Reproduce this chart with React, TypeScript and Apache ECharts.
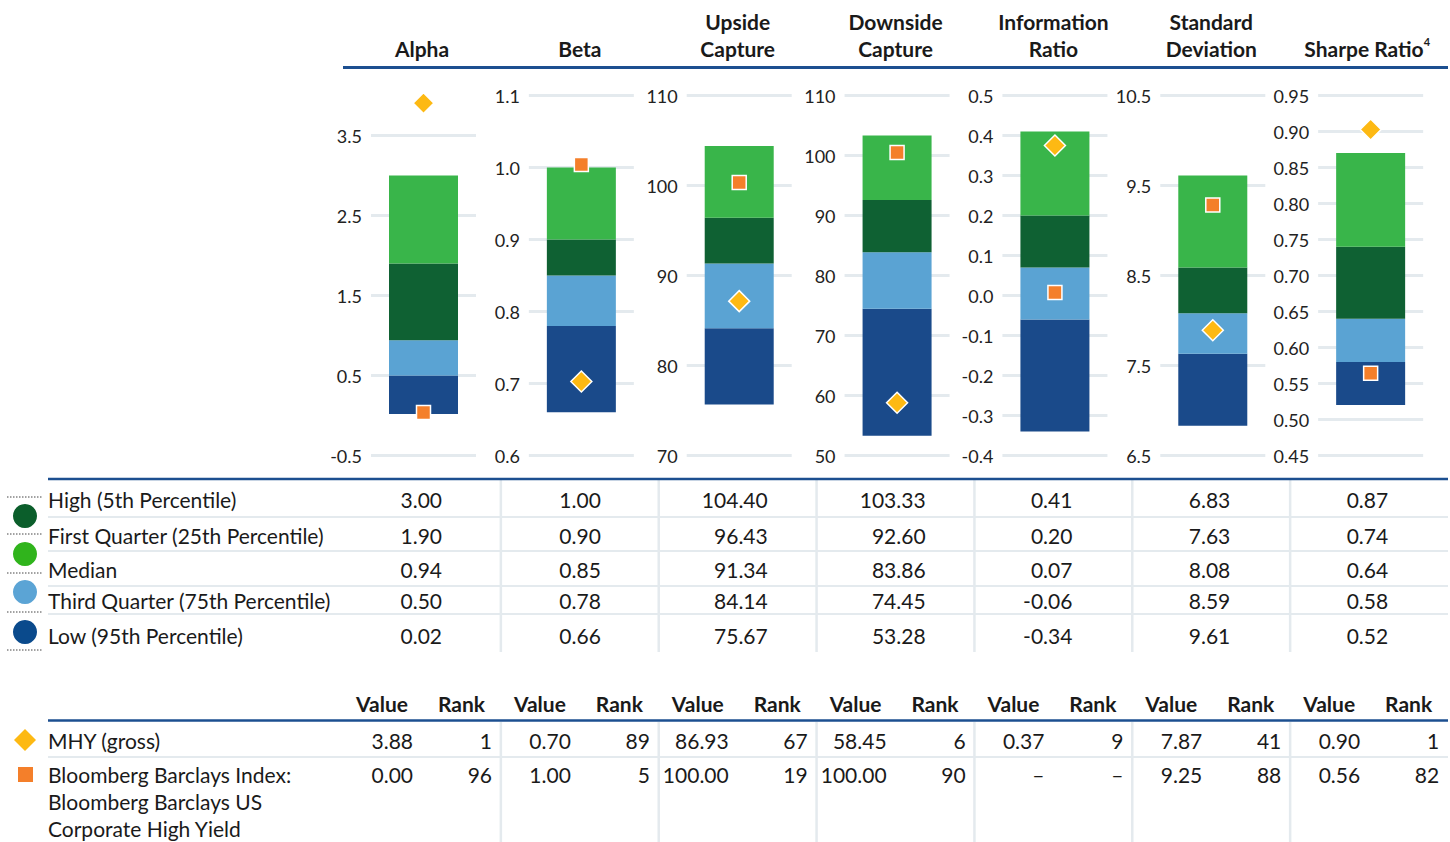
import React, { useEffect, useRef } from "react";
import * as echarts from "echarts";

// ---- Data ----
const metricTitles: string[][] = [
  ["Alpha"],
  ["Beta"],
  ["Upside", "Capture"],
  ["Downside", "Capture"],
  ["Information", "Ratio"],
  ["Standard", "Deviation"],
  ["Sharpe Ratio"],
];
const rowLabels = [
  "High (5th Percentile)",
  "First Quarter (25th Percentile)",
  "Median",
  "Third Quarter (75th Percentile)",
  "Low (95th Percentile)",
];
const highVals = [3.0, 1.0, 104.4, 103.33, 0.41, 6.83, 0.87];
const q1Vals = [1.9, 0.9, 96.43, 92.6, 0.2, 7.63, 0.74];
const medianVals = [0.94, 0.85, 91.34, 83.86, 0.07, 8.08, 0.64];
const q3Vals = [0.5, 0.78, 84.14, 74.45, -0.06, 8.59, 0.58];
const lowVals = [0.02, 0.66, 75.67, 53.28, -0.34, 9.61, 0.52];

const mhyValues = [3.88, 0.7, 86.93, 58.45, 0.37, 7.87, 0.9];
const mhyRanks = ["1", "89", "67", "6", "9", "41", "1"];
// Index: information ratio plotted at 0, shown as a dash in the table
const indexValues = [0.0, 1.0, 100.0, 100.0, 0.0, 9.25, 0.56];
const indexValueLabels = ["0.00", "1.00", "100.00", "100.00", "–", "9.25", "0.56"];
const indexRanks = ["96", "5", "19", "90", "–", "88", "82"];

const axisMin = [-0.5, 0.6, 70, 50, -0.4, 6.5, 0.45];
const axisMax = [4.0, 1.1, 110, 110, 0.5, 10.5, 0.95];
const axisStep = [1, 0.1, 10, 10, 0.1, 1, 0.05];
const axisDecimals = [1, 1, 0, 0, 1, 1, 2];

const bandColors = ["#1a4a8a", "#5aa3d3", "#0f6133", "#39b54a"]; // bottom -> top
const legendColors = ["#0b5e2b", "#30b41c", "#5ba4d5", "#0a4a8c"];
const NAVY = "#1c4f90";
const GRIDC = "#e4eaee";
const TXT = "#1a1a1a";
const FONT = "Lato";
const FS = 21;

const COL0 = 343;
const COLW = 1105 / 7;
const colX = (i: number) => COL0 + i * COLW;
const tableRight = [99, 100, 109, 109, 98, 98, 98];

function text(t: string, x: number, y: number, o: any = {}) {
  return {
    type: "text",
    x,
    y,
    silent: true,
    style: {
      text: t,
      fontSize: o.size || FS,
      fontWeight: o.weight || "normal",
      fontFamily: FONT,
      fill: o.fill || TXT,
      align: o.align || "left",
      verticalAlign: "middle",
      textAlign: o.align || "left",
      textVerticalAlign: "middle",
      rich: o.rich,
    },
  };
}
function line(x1: number, y1: number, x2: number, y2: number, stroke: string, lineWidth: number, dash?: number[]) {
  return {
    type: "line",
    silent: true,
    shape: { x1, y1, x2, y2 },
    style: { stroke, lineWidth, lineDash: dash },
  };
}

export default function App() {
  const ref = useRef<HTMLDivElement>(null);

  useEffect(() => {
    if (!ref.current) return;
    const chart = echarts.init(ref.current, null, { renderer: "svg" });

    const grid: any[] = [];
    const xAxis: any[] = [];
    const yAxis: any[] = [];
    const series: any[] = [];

    for (let i = 0; i < 7; i++) {
      grid.push({ left: colX(i) + 28, top: 95.5, width: 105, height: 360 });
      xAxis.push({ type: "category", gridIndex: i, data: ["v"], show: false });
      const dec = axisDecimals[i];
      yAxis.push({
        type: "value",
        gridIndex: i,
        min: axisMin[i],
        max: axisMax[i],
        interval: axisStep[i],
        axisLine: { show: false },
        axisTick: { show: false },
        axisLabel: {
          margin: 9,
          fontSize: 18,
          color: "#222",
          fontFamily: FONT,
          showMaxLabel: i !== 0,
          formatter: (v: number) => v.toFixed(dec),
        },
        splitLine: {
          show: true,
          showMaxLine: i !== 0,
          lineStyle: { color: GRIDC, width: 3 },
        },
      });
      const sorted = [highVals[i], q1Vals[i], medianVals[i], q3Vals[i], lowVals[i]].sort((a, b) => a - b);
      series.push({
        type: "bar",
        xAxisIndex: i,
        yAxisIndex: i,
        stack: "s" + i,
        stackStrategy: "all",
        barWidth: 69,
        silent: true,
        itemStyle: { color: "rgba(0,0,0,0)" },
        data: [sorted[0]],
      });
      for (let b = 0; b < 4; b++) {
        series.push({
          type: "bar",
          xAxisIndex: i,
          yAxisIndex: i,
          stack: "s" + i,
          stackStrategy: "all",
          barWidth: 69,
          itemStyle: { color: bandColors[b] },
          data: [+(sorted[b + 1] - sorted[b]).toFixed(4)],
        });
      }
      series.push({
        type: "scatter",
        xAxisIndex: i,
        yAxisIndex: i,
        symbol: "rect",
        symbolSize: 14,
        symbolOffset: [0, -3],
        itemStyle: { color: "#f47f2a", borderColor: "#fff", borderWidth: 1.5, opacity: 1 },
        z: 5,
        data: [indexValues[i]],
      });
      series.push({
        type: "scatter",
        xAxisIndex: i,
        yAxisIndex: i,
        symbol: "diamond",
        symbolSize: 21,
        symbolOffset: [0, -2],
        itemStyle: { color: "#fdb913", borderColor: "#fff", borderWidth: 1.5, opacity: 1 },
        z: 6,
        data: [mhyValues[i]],
      });
    }

    const g: any[] = [];
    // Column headers
    for (let i = 0; i < 7; i++) {
      const cx = colX(i) + 79;
      const lines = metricTitles[i];
      if (i === 6) {
        g.push(
          text("{a|Sharpe Ratio}{s|4}", cx - 2, 48, {
            align: "center",
            weight: "bold",
            rich: {
              a: { fontSize: FS, fontWeight: "bold", fontFamily: FONT, fill: TXT, lineHeight: 24 },
              s: { fontSize: 11, fontWeight: "bold", fontFamily: FONT, fill: TXT, verticalAlign: "top", lineHeight: 14 },
            },
          })
        );
      } else if (lines.length === 1) {
        g.push(text(lines[0], cx, 48, { align: "center", weight: "bold" }));
      } else {
        g.push(text(lines[0], cx, 21, { align: "center", weight: "bold" }));
        g.push(text(lines[1], cx, 48, { align: "center", weight: "bold" }));
      }
    }
    g.push(line(343, 67.5, 1448, 67.5, NAVY, 3));

    // Upper table
    const rowY = [499, 535, 569, 600, 635];
    const sepY = [517, 551, 586, 614];
    sepY.forEach((y) => g.push(line(48, y, 1448, y, GRIDC, 2)));
    for (let i = 1; i < 7; i++) g.push(line(colX(i), 480, colX(i), 652, GRIDC, 2.5));
    g.push(line(48, 479, 1448, 479, NAVY, 2.5));
    const tableRows = [highVals, q1Vals, medianVals, q3Vals, lowVals];
    rowLabels.forEach((lab, r) => {
      g.push(text(lab, 48, rowY[r]));
      for (let i = 0; i < 7; i++) {
        g.push(text(tableRows[r][i].toFixed(2), colX(i) + tableRight[i], rowY[r], { align: "right" }));
      }
    });
    // legend dotted lines & circles
    [497, 534, 573, 612, 650].forEach((y) => g.push(line(7, y, 43, y, "#444", 1, [1.5, 1.5])));
    [516, 554, 592, 632].forEach((y, k) =>
      g.push({ type: "circle", silent: true, shape: { cx: 25, cy: y, r: 12 }, style: { fill: legendColors[k] } })
    );

    // Lower table
    for (let i = 0; i < 7; i++) {
      g.push(text("Value", colX(i) + 65, 703, { align: "right", weight: "bold" }));
      g.push(text("Rank", colX(i) + 142, 703, { align: "right", weight: "bold" }));
      g.push(text(mhyValues[i].toFixed(2), colX(i) + 70, 740, { align: "right" }));
      g.push(text(mhyRanks[i], colX(i) + 149, 740, { align: "right" }));
      g.push(text(indexValueLabels[i], colX(i) + 70, 774, { align: "right" }));
      g.push(text(indexRanks[i], colX(i) + 149, 774, { align: "right" }));
    }
    g.push(line(48, 757, 1448, 757, GRIDC, 2));
    for (let i = 1; i < 7; i++) g.push(line(colX(i), 722, colX(i), 842, GRIDC, 2.5));
    g.push(line(48, 720.5, 1448, 720.5, NAVY, 2.5));
    g.push(text("MHY (gross)", 48, 740));
    g.push(text("Bloomberg Barclays Index:", 48, 774));
    g.push(text("Bloomberg Barclays US", 48, 801));
    g.push(text("Corporate High Yield", 48, 828));
    g.push({
      type: "polygon",
      silent: true,
      shape: { points: [[25, 729], [36, 740], [25, 751], [14, 740]] },
      style: { fill: "#fdb913" },
    });
    g.push({ type: "rect", silent: true, shape: { x: 18, y: 767, width: 15, height: 15 }, style: { fill: "#f47f2a" } });

    chart.setOption({
      animation: false,
      backgroundColor: "#fff",
      textStyle: { fontFamily: FONT },
      grid,
      xAxis,
      yAxis,
      series,
      graphic: { elements: g },
    });
    return () => chart.dispose();
  }, []);

  return (
    <div
      ref={ref}
      style={{ position: "absolute", left: 0, top: 0, width: 1450, height: 842 }}
    />
  );
}
